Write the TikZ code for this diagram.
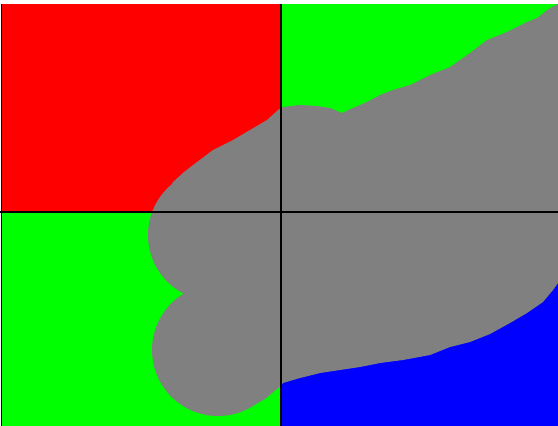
\documentclass[tikz,border=0pt]{standalone}
\usepackage{xcolor}
\usepackage{tikz}
\definecolor{qred}{HTML}{FF0000}
\definecolor{qgreen}{HTML}{00FF00}
\definecolor{qblue}{HTML}{0000FF}
\definecolor{qgray}{HTML}{808080}
\tikzset{
  quad/.style={fill=#1,draw=none},
  blob/.style={fill=qgray,draw=none},
  axisline/.style={draw=black,line width=1.8pt}
}
\begin{document}
\begin{tikzpicture}[x=1pt,y=-1pt]
  \useasboundingbox[fill=white] (0,0) rectangle (558,426);
  % quadrants
  \fill[quad=qred] (2,4) rectangle (281,212);
  \fill[quad=qgreen] (281,4) rectangle (558,212);
  \fill[quad=qgreen] (2,212) rectangle (281,426);
  \fill[quad=qblue] (281,212) rectangle (558,426);
  % swept region
  \fill[blob] (214,235) circle (66pt);
  \fill[blob] (218,350) circle (66pt);
  \fill[blob] (558,4) -- (550,8) -- (537,18) -- (527,22) -- (507,32) -- (487,40)
    -- (470,53) -- (450,67) -- (430,75) -- (410,85) -- (393,90) -- (380,95)
    -- (367,102) -- (353,108) -- (342,113) -- (330,108) -- (317,106) -- (300,105)
    -- (283,107) -- (278,110) -- (267,120) -- (250,130) -- (233,140) -- (213,150)
    -- (197,162) -- (184,172) -- (172,183) -- (214,235) -- (218,350) -- (250,407)
    -- (265,399) -- (278,388)
    -- (283,383) -- (300,378) -- (320,373) -- (340,370) -- (360,367) -- (380,363)
    -- (403,360) -- (430,355) -- (450,347) -- (470,342) -- (490,334) -- (510,323)
    -- (527,313) -- (543,302) -- (553,290) -- (558,283) -- cycle;
  % axes
  \draw[axisline] (1.5,4) -- (1.5,426);
  \draw[axisline] (0,212) -- (558,212);
  \draw[axisline] (281,4) -- (281,426);
\end{tikzpicture}
\end{document}
